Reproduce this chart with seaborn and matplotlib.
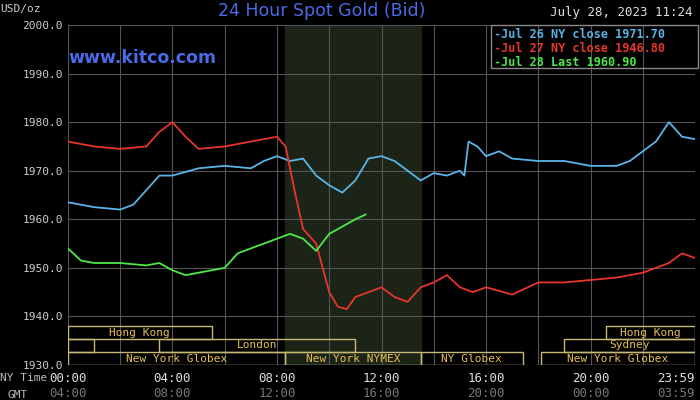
import matplotlib
matplotlib.use("Agg")
import matplotlib.pyplot as plt
import seaborn as sns
import pandas as pd

# hours since 00:00 NY time
blue_t = [0, 1, 2, 2.5, 3, 3.5, 4, 5, 6, 7, 7.5, 8, 8.5, 9, 9.5, 10, 10.5, 11, 11.5, 12, 12.5, 13,
          13.5, 14, 14.5, 15, 15.17, 15.33, 15.67, 16, 16.5, 17, 18, 19, 20, 21, 21.5, 22, 22.5, 23, 23.5, 24]
blue_v = [1963.5, 1962.5, 1962, 1963, 1966, 1969, 1969, 1970.5, 1971, 1970.5, 1972, 1973, 1972, 1972.5,
          1969, 1967, 1965.5, 1968, 1972.5, 1973, 1972, 1970, 1968, 1969.5, 1969, 1970, 1969, 1976, 1975,
          1973, 1974, 1972.5, 1972, 1972, 1971, 1971, 1972, 1974, 1976, 1980, 1977, 1976.5]
red_t = [0, 1, 2, 3, 3.5, 4, 4.5, 5, 6, 7, 8, 8.33, 8.67, 9, 9.5, 10, 10.33, 10.67, 11, 11.5, 12, 12.5,
         13, 13.5, 14, 14.5, 15, 15.5, 16, 17, 18, 19, 20, 21, 22, 23, 23.5, 24]
red_v = [1976, 1975, 1974.5, 1975, 1978, 1980, 1977, 1974.5, 1975, 1976, 1977, 1975, 1966, 1958, 1955,
         1945, 1942, 1941.5, 1944, 1945, 1946, 1944, 1943, 1946, 1947, 1948.5, 1946, 1945, 1946, 1944.5,
         1947, 1947, 1947.5, 1948, 1949, 1951, 1953, 1952]
green_t = [0, 0.5, 1, 2, 3, 3.5, 4, 4.5, 5, 6, 6.5, 7, 8, 8.5, 9, 9.5, 10, 10.5, 11, 11.4]
green_v = [1954, 1951.5, 1951, 1951, 1950.5, 1951, 1949.5, 1948.5, 1949, 1950, 1953, 1954, 1956, 1957,
           1956, 1953.5, 1957, 1958.5, 1960, 1961]

legend_labels = ["-Jul 26 NY close 1971.70", "-Jul 27 NY close 1946.80", "-Jul 28 Last 1960.90"]
colors = ["#5ab4e6", "#e8352a", "#4ee84a"]

# sessions: (name, start, end, row)
sessions = [("Hong Kong", 0, 5.5, 2), ("", 0, 1, 1), ("London", 3.5, 11.0, 1),
            ("New York Globex", 0, 8.3, 0), ("New York NYMEX", 8.3, 13.5, 0),
            ("NY Globex", 13.5, 17.4, 0), ("New York Globex", 18.1, 24, 0),
            ("Sydney", 19.0, 24, 1), ("Hong Kong", 20.6, 24, 2)]
ny_ticks = ["00:00", "04:00", "08:00", "12:00", "16:00", "20:00", "23:59"]
gmt_ticks = ["04:00", "08:00", "12:00", "16:00", "20:00", "00:00", "03:59"]
yticks = [1930, 1940, 1950, 1960, 1970, 1980, 1990, 2000]

sns.set_style("dark")
mono = "DejaVu Sans Mono"
fig = plt.figure(figsize=(7, 4), dpi=100, facecolor="black")
ax = fig.add_axes([0.097, 0.0875, 0.896, 0.85], facecolor="black")

df = pd.concat([
    pd.DataFrame({"t": blue_t, "v": blue_v, "s": legend_labels[0]}),
    pd.DataFrame({"t": red_t, "v": red_v, "s": legend_labels[1]}),
    pd.DataFrame({"t": green_t, "v": green_v, "s": legend_labels[2]}),
])
ax.axvspan(8.3, 13.5, color="#1c2418", zorder=0)
sns.lineplot(data=df, x="t", y="v", hue="s", palette=colors, ax=ax, linewidth=1.3, legend=False,
             estimator=None, sort=False, zorder=3)

ax.set_xlim(0, 24)
ax.set_ylim(1930, 2000)
ax.set_xticks(range(0, 25, 2))
ax.set_yticks(yticks)
ax.grid(True, color="#555555", linewidth=0.8)
ax.tick_params(length=0, labelbottom=False)
ax.set_yticklabels([f"{y:.1f}" for y in yticks], family=mono, color="#cccccc", fontsize=8)
for s in ax.spines.values():
    s.set_visible(False)
ax.set_xlabel("")
ax.set_ylabel("")

row_h = 70 / 340 * 13
for name, a, b, row in sessions:
    y0 = 1930 + row * row_h
    ax.add_patch(plt.Rectangle((a, y0), b - a, row_h, fill=False, edgecolor="#c8b878",
                               linewidth=1, zorder=4))
    ax.text((a + b) / 2, y0 + row_h / 2, name, ha="center", va="center", color="#e8c050",
            family=mono, fontsize=8, zorder=5)

for i, (n, g) in enumerate(zip(ny_ticks, gmt_ticks)):
    x = [0, 4, 8, 12, 16, 20, 24][i]
    ha = "right" if i == 6 else "center"
    ax.text(x, -0.02, n, transform=ax.get_xaxis_transform(), ha=ha, va="top",
            color="#dddddd", family=mono, fontsize=9)
    ax.text(x, -0.065, g, transform=ax.get_xaxis_transform(), ha=ha, va="top",
            color="#777777", family=mono, fontsize=9)
fig.text(0.0, 0.0675, "NY Time", color="#bbbbbb", family=mono, fontsize=8, va="top")
fig.text(0.01, 0.025, "GMT", color="#bbbbbb", family=mono, fontsize=8, va="top")

fig.text(0.0, 0.99, "USD/oz", color="#cccccc", family=mono, fontsize=8, va="top")
fig.text(0.46, 0.995, "24 Hour Spot Gold (Bid)", color="#4a6ae8", fontsize=12.5,
         ha="center", va="top")
fig.text(0.99, 0.985, "July 28, 2023 11:24", color="#dddddd", family=mono, fontsize=9,
         ha="right", va="top")
ax.text(0.0, 0.93, "www.kitco.com", transform=ax.transAxes, color="#4a6ae8", fontsize=12.5,
        fontweight="bold", va="top", zorder=6)

for i, (lab, c) in enumerate(zip(legend_labels, colors)):
    ax.text(0.68, 0.99 - i * 0.04, lab, transform=ax.transAxes, color=c, family=mono,
            fontsize=8.5, fontweight="bold", va="top", zorder=6)
ax.add_patch(plt.Rectangle((0.675, 0.875), 0.33, 0.125, transform=ax.transAxes, fill=False,
                           edgecolor="#888888", linewidth=1, clip_on=False, zorder=6))

fig.savefig("out.png", dpi=100, facecolor="black")
